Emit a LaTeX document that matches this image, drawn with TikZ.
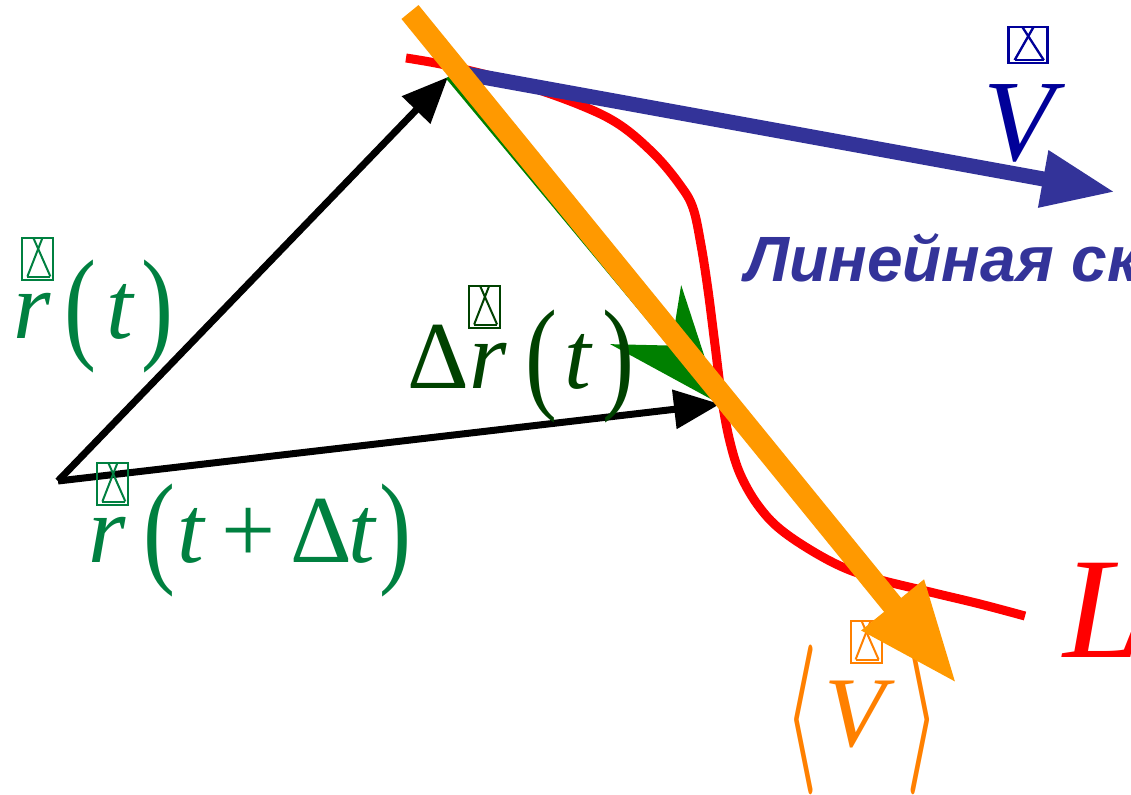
\documentclass[tikz,border=0pt]{standalone}
\usepackage{fontspec}
\setmainfont{Liberation Serif}
\newfontfamily\rusfont{Liberation Sans}
\usepackage{pict2e}
\usetikzlibrary{arrows.meta}
\definecolor{labgreen}{RGB}{0,128,64}
\definecolor{dgreen}{RGB}{0,66,0}
\definecolor{arrgreen}{RGB}{0,128,0}
\definecolor{velblue}{RGB}{51,51,153}
\definecolor{vtxt}{RGB}{0,0,153}
\definecolor{avgorange}{RGB}{255,153,0}
\definecolor{avgtxt}{RGB}{255,128,0}
% the broken vector-arrow glyph over the letters
\newcommand{\nogl}{{\setlength{\unitlength}{0.5pt}\linethickness{1pt}%
  \begin{picture}(31,42)
    \polygon(0,0)(31,0)(31,42)(0,42)
    \Line(11,42)(28,3.5)\Line(20,42)(5,3.5)\Line(5,3.5)(28,3.5)
  \end{picture}}}
\newcommand{\accs}[4]{\makebox[0pt][l]{\hspace{#3}\raisebox{#4}{\scalebox{#1}[#2]{\nogl}}}}
\newcommand{\acc}[2]{\accs{1}{1}{#1}{#2}}
\newcommand{\lpar}{\raisebox{-4pt}{\scalebox{1}[1.3]{(}}}
\newcommand{\rpar}{\raisebox{-4pt}{\scalebox{1}[1.3]{)}}}
\newcommand{\lang}{\raisebox{-5.75pt}{\scalebox{3.6}[7.5]{\normalsize\boldmath$\langle$}}}
\newcommand{\rang}{\raisebox{-5.75pt}{\scalebox{3.6}[7.5]{\normalsize\boldmath$\rangle$}}}

\begin{document}
\begin{tikzpicture}[x=0.5pt, y=-0.5pt,
  radvec/.style={line width=3.5pt, -{Triangle[length=23pt, width=19pt]}},
  lab/.style={inner sep=0pt, anchor=base west, font=\fontsize{48}{48}\selectfont},
]
\useasboundingbox (0,0) rectangle (1131,794);
\clip (0,0) rectangle (1131,794);

\coordinate (O) at (58,481);
\coordinate (A) at (448,77);
\coordinate (B) at (720,404);
\coordinate (vstart) at (455,72);
\coordinate (vtip) at (1115,192);
\coordinate (ostart) at (410,12);
\coordinate (otip) at (957,684);

% radius vectors
\draw[radvec] (O) -- (A);
\draw[radvec] (O) -- (B);
\draw[arrgreen, line width=2.5pt, -{Stealth[length=58pt, width=46pt, inset=20pt]}] (A) -- (B);

% labels
\node[lab, text=labgreen] (rt) at (13,338)
  {\acc{4.5pt}{29pt}\textit{r}\hspace{6.5pt}\lpar\hspace{5pt}\textit{t}\hspace{3.5pt}\rpar};
\node[lab, text=dgreen] (drt) at (407,388)
  {Δ\acc{0pt}{30pt}\textit{r}\hspace{9.5pt}\lpar\hspace{3.5pt}\textit{t}\hspace{4.5pt}\rpar};
\node[lab, text=labgreen] (rtdt) at (88,562)
  {\acc{4.5pt}{28.5pt}\textit{r}\hspace{8.5pt}\lpar\hspace{1pt}\textit{t}\hspace{8pt}+\hspace{7.5pt}Δ\hspace{-2pt}\textit{t}\hspace{1pt}\rpar};
\node[lab, text=vtxt, font=\fontsize{58}{58}\selectfont] (vlab) at (983,160)
  {\accs{1.26}{0.86}{12.5pt}{48.5pt}\textit{V}};
\node[lab, text=avgtxt, font=\fontsize{50}{50}\selectfont] (vavg) at (785,746)
  {\lang\hspace{3.5pt}\acc{13pt}{41.5pt}\textit{V}\hspace{5.5pt}\rang};
\node[lab, text=velblue, font=\rusfont\bfseries\itshape\fontsize{32}{32}\selectfont] (vname) at (745,281)
  {Линейная ск};
\node[lab, text=red, font=\fontsize{72}{72}\selectfont] (llab) at (1063,657) {\textit{L}};

% trajectory
\draw[red, line width=4.5pt] plot[smooth, tension=0.6] coordinates {
  (406,58) (450,66) (520,84) (580,105) (620,125) (655,155) (680,185) (693,208)
  (701,245) (708,290) (715,345) (722,400) (730,442) (741,476) (760,508)
  (785,533) (830,561) (870,577) (930,592) (980,604) (1025,616)};

% velocity and average velocity
\draw[velblue, line width=7.5pt, -{Triangle[length=36.5pt, width=27pt]}] (vstart) -- (vtip);
\draw[avgorange, line width=11pt, -{Triangle[length=51pt, width=37pt]}] (ostart) -- (otip);
\end{tikzpicture}
\end{document}
